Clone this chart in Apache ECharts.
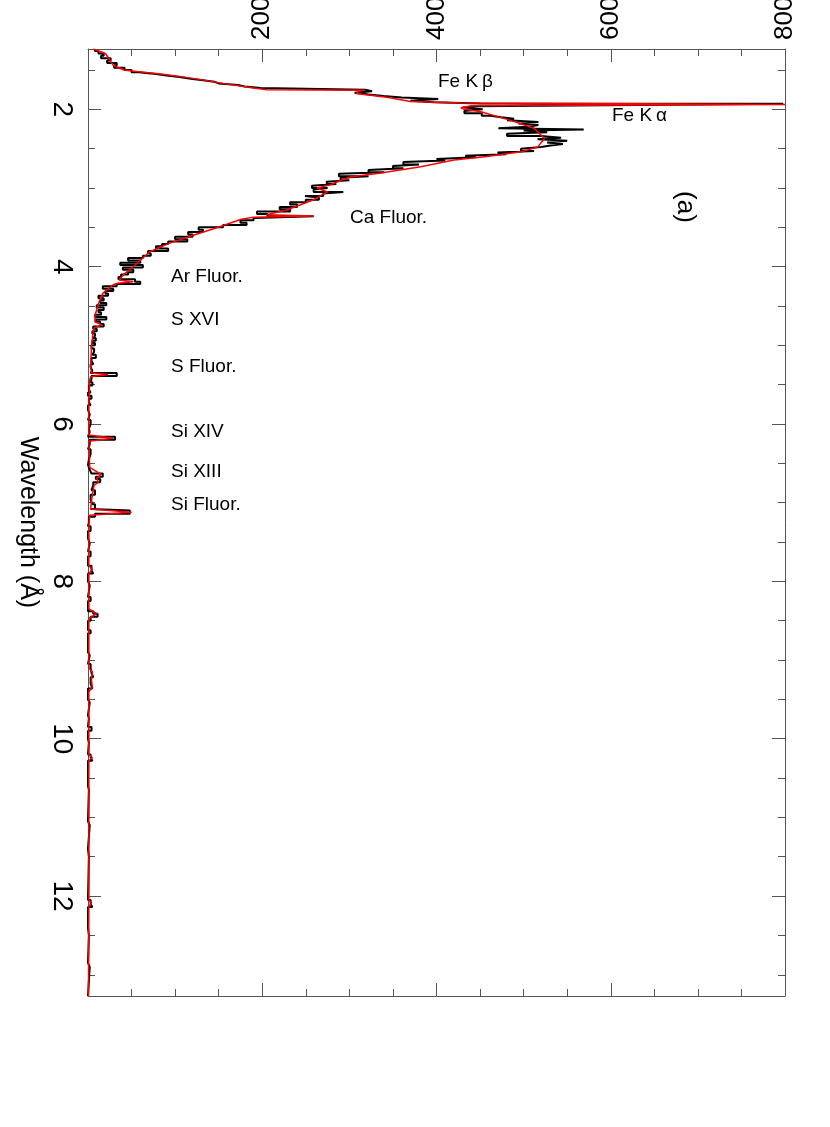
<!DOCTYPE html>
<html>
<head>
<meta charset="utf-8">
<script src="https://cdn.jsdelivr.net/npm/echarts@6/dist/echarts.min.js"></script>
<style>
  html, body { margin: 0; padding: 0; background: #fff; }
  #chart { width: 830px; height: 1127px; }
</style>
</head>
<body>
<div id="chart"></div>
<script>
// histogram: count holds from each breakpoint to the next one
const histWave = [
  1.233, 1.26, 1.29, 1.32, 1.35, 1.38, 1.41, 1.44, 1.47, 1.50, 1.53, 1.55, 1.57, 1.59, 1.61, 1.63, 1.65, 1.67, 1.69, 1.71, 1.73,
  1.75, 1.77, 1.79, 1.81, 1.83, 1.85, 1.87, 1.89, 1.91, 1.925, 1.93, 1.945, 1.96, 1.975,
  2.00, 2.02, 2.05, 2.08, 2.10, 2.12, 2.14, 2.16, 2.18, 2.20, 2.22, 2.24, 2.255, 2.27, 2.29, 2.31, 2.34, 2.36, 2.38,
  2.40, 2.42, 2.44, 2.46, 2.48, 2.50, 2.53, 2.55, 2.57, 2.59, 2.61, 2.63, 2.65, 2.67, 2.70, 2.72, 2.75, 2.77, 2.80,
  2.82, 2.85, 2.87, 2.90, 2.92, 2.95, 2.97, 3.00, 3.02, 3.05, 3.07, 3.10, 3.12, 3.15, 3.18, 3.21, 3.24, 3.27, 3.30,
  3.33, 3.36, 3.38, 3.41, 3.44, 3.47, 3.50, 3.53, 3.56, 3.59, 3.62, 3.65, 3.68, 3.71, 3.74, 3.77, 3.80, 3.83, 3.86,
  3.89, 3.92, 3.95, 3.98, 4.01, 4.04, 4.07, 4.10, 4.13, 4.16, 4.19, 4.22, 4.25, 4.28, 4.31, 4.34, 4.37, 4.40, 4.43,
  4.46, 4.49, 4.52, 4.55, 4.58, 4.61, 4.64, 4.67, 4.70, 4.73, 4.76, 4.79, 4.82, 4.85, 4.88, 4.91, 4.94, 4.97, 5.00,
  5.04, 5.08, 5.12, 5.16, 5.20, 5.24, 5.28, 5.32, 5.35, 5.39, 5.43, 5.47, 5.51, 5.56, 5.60, 5.64, 5.68, 5.72, 5.76,
  5.82, 5.88, 5.95, 6.00, 6.06, 6.10, 6.16, 6.20, 6.26, 6.32, 6.38, 6.45, 6.52, 6.58, 6.63, 6.67, 6.70, 6.74, 6.78,
  6.84, 6.90, 6.96, 7.02, 7.08, 7.10, 7.14, 7.18, 7.25, 7.30, 7.36, 7.45, 7.52, 7.62, 7.68, 7.80, 7.86, 7.90, 8.00,
  8.05, 8.20, 8.25, 8.38, 8.41, 8.45, 8.50, 8.62, 8.66, 8.90, 8.94, 9.05, 9.10, 9.16, 9.22, 9.30, 9.36, 9.50, 9.54,
  9.70, 9.74, 9.85, 9.90, 10.00, 10.05, 10.20, 10.24, 10.28, 10.60, 10.65, 11.05, 11.10, 11.40, 11.50, 12.05, 12.10,
  12.14, 12.40, 12.50, 12.85, 12.90, 13.27
];
const histCounts = [
  8, 12, 18, 15, 26, 22, 33, 30, 42, 50, 58, 78, 90, 105, 118, 132, 145, 150, 172, 180, 198,
  318, 326, 306, 322, 339, 360, 402, 370, 397, 451, 798, 630, 445, 430,
  453, 432, 452, 462, 474, 489, 481, 517, 494, 517, 505, 471, 569, 500, 527, 481, 520, 543, 516,
  550, 527, 545, 531, 520, 497, 512, 470, 480, 433, 445, 400, 410, 362, 380, 350, 362, 322, 340,
  288, 322, 290, 300, 274, 285, 257, 275, 259, 293, 270, 249, 265, 250, 232, 240, 220, 232, 194,
  206, 259, 190, 175, 182, 155, 127, 132, 115, 120, 100, 114, 92, 85, 78, 92, 69, 72, 63,
  46, 60, 37, 63, 40, 52, 46, 38, 35, 54, 60, 33, 17, 29, 20, 23, 12, 18, 14,
  21, 10, 18, 12, 15, 8, 21, 9, 14, 18, 6, 10, 5, 8, 6, 9, 5, 8, 4,
  7, 5, 9, 4, 6, 3, 5, 3, 33, 4, 2, 5, 1, 3, 0, 4, 1, 3, 0,
  2, 0, 3, 1, 2, 0, 31, 2, 0, 3, 1, 0, 2, 4, 17, 9, 14, 6, 4,
  8, 3, 5, 8, 3, 48, 8, 1, 0, 3, 0, 2, 0, 3, 0, 4, 6, 0, 2,
  0, 3, 0, 6, 11, 3, 0, 3, 0, 2, 0, 3, 4, 6, 3, 5, 0, 2, 0,
  1, 0, 4, 0, 1, 0, 3, 5, 0, 1, 0, 2, 0, 1, 0, 3, 5,
  0, 1, 0, 2, 0
];

// fitted model (red curve)
const modelWave = [
  1.233, 1.29, 1.37, 1.44, 1.50, 1.52, 1.555, 1.60, 1.67, 1.73, 1.752, 1.756, 1.762, 1.80, 1.85, 1.90, 1.92,
  1.930, 1.937, 1.944, 1.955, 1.98, 2.00, 2.03, 2.14, 2.24, 2.37, 2.48, 2.54, 2.60, 2.645, 2.73, 2.81, 2.86,
  2.94, 2.96, 3.00, 3.05, 3.09, 3.15, 3.28, 3.34, 3.355, 3.37, 3.40, 3.49, 3.60, 3.70, 3.81, 3.96, 4.11, 4.17,
  4.19, 4.21, 4.23, 4.34, 4.47, 4.62, 4.70, 4.74, 4.78, 4.81, 5.02, 5.27, 5.35, 5.37, 5.40, 5.44, 5.70, 6.14,
  6.18, 6.22, 6.55, 6.64, 6.69, 6.74, 6.78, 6.90, 6.98, 7.08, 7.12, 7.16, 7.30, 7.80, 7.85, 7.90, 8.35, 8.41,
  8.47, 9.10, 9.15, 9.25, 9.35, 9.40, 9.85, 9.87, 9.90, 10.20, 10.24, 10.28, 12.05, 12.09, 12.13, 13.27
];
const modelCounts = [
  6, 20, 25, 29, 41, 56, 86, 117, 155, 190, 205, 318, 312, 308, 345, 370, 428,
  620, 800, 620, 440, 428, 432, 451, 485, 512, 524, 516, 497, 458, 420, 382, 336, 301,
  282, 278, 263, 275, 268, 259, 228, 205, 259, 190, 175, 152, 121, 94, 71, 56, 40, 36,
  52, 34, 29, 17, 12, 8, 8, 16, 7, 6, 4, 3, 4, 23, 3, 2, 1, 1,
  29, 1, 2, 15, 10, 12, 7, 5, 4, 3, 50, 2, 1, 1, 5, 1, 1, 10,
  1, 1, 5, 4, 5, 1, 1, 3, 1, 1, 5, 1, 1, 4, 1, 0.5
];

const countTicks = [0, 200, 400, 600, 800];
const waveLabels = [2, 4, 6, 8, 10, 12];
const waveMinor = [1.5, 2.5, 3, 3.5, 4.5, 5, 5.5, 6.5, 7, 7.5, 8.5, 9, 9.5, 10.5, 11, 11.5, 12.5, 13];

const notes = [
  { text: 'Fe K\u2009\u03b2', x: 438, y: 82 },
  { text: 'Fe K\u2009\u03b1', x: 612, y: 116 },
  { text: 'Ca Fluor.', x: 350, y: 218 },
  { text: 'Ar Fluor.', x: 171, y: 277 },
  { text: 'S XVI', x: 171, y: 320 },
  { text: 'S Fluor.', x: 171, y: 367 },
  { text: 'Si XIV', x: 171, y: 432 },
  { text: 'Si XIII', x: 171, y: 472 },
  { text: 'Si Fluor.', x: 171, y: 505 }
];

// step outline of the histogram
const histData = [];
for (let i = 0; i < histCounts.length; i++) {
  histData.push([histCounts[i], histWave[i]]);
  histData.push([histCounts[i], histWave[i + 1]]);
}
const modelData = modelWave.map((w, i) => [modelCounts[i], w]);

const FONT = "'Liberation Sans', Arial, sans-serif";
const frame = '#555';

function countAxis(pos, labels) {
  return {
    type: 'value', position: pos, min: 0, max: 800, interval: 200,
    axisLine: { show: true, lineStyle: { color: frame, width: 1 } },
    axisTick: { show: true, inside: true, length: 13, lineStyle: { color: frame } },
    minorTick: { show: true, splitNumber: 4, length: 7, lineStyle: { color: frame } },
    axisLabel: {
      show: labels, rotate: -90, margin: 9, fontSize: 26, fontFamily: FONT, color: '#000',
      showMinLabel: false, formatter: v => countTicks.includes(v) ? String(v) : ''
    },
    splitLine: { show: false }
  };
}

function waveAxis(pos, ticks, len, labels, line) {
  return {
    type: 'value', position: pos, inverse: true, min: 1.233, max: 13.27,
    name: labels ? 'Wavelength (\u00c5)' : '',
    nameLocation: 'middle', nameRotate: -90, nameGap: 37,
    nameTextStyle: { fontSize: 25, fontFamily: FONT, color: '#000' },
    axisLine: { show: line, lineStyle: { color: frame, width: 1 } },
    axisTick: { show: true, inside: true, length: len, customValues: ticks, lineStyle: { color: frame } },
    axisLabel: {
      show: labels, customValues: waveLabels, rotate: -90, margin: 12,
      fontSize: 28, fontFamily: FONT, color: '#000'
    },
    splitLine: { show: false }
  };
}

const chart = echarts.init(document.getElementById('chart'), null, { renderer: 'canvas' });
chart.setOption({
  backgroundColor: '#fff',
  animation: false,
  grid: { left: 88, right: 45, top: 49, bottom: 131, containLabel: false, outerBoundsMode: 'none' },
  xAxis: [countAxis('top', true), countAxis('bottom', false)],
  yAxis: [
    waveAxis('left', waveLabels, 13, true, true),
    waveAxis('left', waveMinor, 7, false, false),
    waveAxis('right', waveLabels, 13, false, true),
    waveAxis('right', waveMinor, 7, false, false)
  ],
  series: [
    {
      type: 'line', data: histData, xAxisIndex: 0, yAxisIndex: 0,
      showSymbol: false, lineStyle: { color: '#000', width: 2 }, z: 2
    },
    {
      type: 'line', data: modelData, xAxisIndex: 0, yAxisIndex: 0,
      showSymbol: false, lineStyle: { color: '#ff0000', width: 1.5 }, z: 3
    }
  ],
  graphic: notes.map(n => ({
    type: 'text', x: n.x, y: n.y,
    style: { text: n.text, fontSize: 19, fontFamily: FONT, fill: '#000', verticalAlign: 'middle' }
  })).concat([{
    type: 'text', x: 685, y: 207, rotation: -Math.PI / 2,
    style: { text: '(a)', fontSize: 26, fontFamily: FONT, fill: '#000', align: 'center', verticalAlign: 'middle' }
  }])
});
</script>
</body>
</html>
